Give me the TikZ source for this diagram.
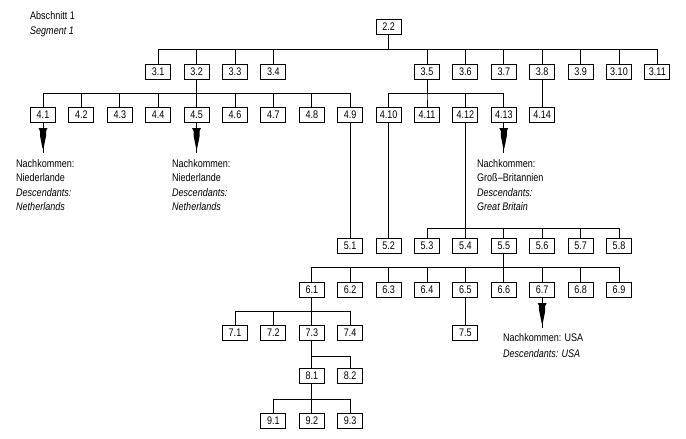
\documentclass[tikz,border=0pt]{standalone}
\usepackage{fontspec}
\setmainfont{Liberation Sans}[FakeStretch=0.82]
\tikzset{
  box/.style={draw, line width=1pt, minimum width=25pt, minimum height=15pt, inner sep=0pt,
    font=\fontsize{11}{12}\selectfont},
  lbl/.style={anchor=west, inner sep=0pt, font=\fontsize{11}{12}\selectfont},
  ilbl/.style={lbl, font=\fontsize{11}{12}\selectfont\itshape},
  conn/.style={line width=1pt},
  pics/descarrow/.style={code={
    \draw[conn] (0,0) -- (0,30);
    \fill (-4.5,5) -- (4.5,5) -- (3,8) -- (3,13) -- (0.6,25) -- (-0.6,25) -- (-3,13) -- (-3,8) -- cycle;
  }}
}
\begin{document}
\begin{tikzpicture}[x=1pt,y=-1pt]
\useasboundingbox (0,0) rectangle (686,439);
% header
\node[lbl] (hdA) at (30,16) {Abschnitt 1};
\node[ilbl] (hdB) at (30,32) {Segment 1};
% rows
\node[box] (a22) at ({43+38.4*9},27) {2.2};
\foreach \n/\k/\t in {31/3/3.1,32/4/3.2,33/5/3.3,34/6/3.4,35/10/3.5,36/11/3.6,37/12/3.7,38/13/3.8,39/14/3.9,310/15/3.10,311/16/3.11}
  \node[box] (a\n) at ({43+38.4*\k},72) {\t};
\foreach \n/\k/\t in {41/0/4.1,42/1/4.2,43/2/4.3,44/3/4.4,45/4/4.5,46/5/4.6,47/6/4.7,48/7/4.8,49/8/4.9,410/9/4.10,411/10/4.11,412/11/4.12,413/12/4.13,414/13/4.14}
  \node[box] (a\n) at ({43+38.4*\k},115) {\t};
\foreach \n/\k/\t in {51/8/5.1,52/9/5.2,53/10/5.3,54/11/5.4,55/12/5.5,56/13/5.6,57/14/5.7,58/15/5.8}
  \node[box] (a\n) at ({43+38.4*\k},246) {\t};
\foreach \n/\k/\t in {61/7/6.1,62/8/6.2,63/9/6.3,64/10/6.4,65/11/6.5,66/12/6.6,67/13/6.7,68/14/6.8,69/15/6.9}
  \node[box] (a\n) at ({43+38.4*\k},290) {\t};
\foreach \n/\k/\t in {71/5/7.1,72/6/7.2,73/7/7.3,74/8/7.4,75/11/7.5}
  \node[box] (a\n) at ({43+38.4*\k},333) {\t};
\foreach \n/\k/\t in {81/7/8.1,82/8/8.2}
  \node[box] (a\n) at ({43+38.4*\k},376) {\t};
\foreach \n/\k/\t in {91/6/9.1,92/7/9.2,93/8/9.3}
  \node[box] (a\n) at ({43+38.4*\k},421) {\t};
% connectors
\foreach \c in {31,32,33,34,35,36,37,38,39,310,311}
  \draw[conn] (a22.south) -- ++(0,14.5) -| (a\c.north);
\foreach \c in {41,42,43,44,45,46,47,48,49}
  \draw[conn] (a32.south) -- ++(0,13.5) -| (a\c.north);
\foreach \c in {410,411,412,413}
  \draw[conn] (a35.south) -- ++(0,13.5) -| (a\c.north);
\draw[conn] (a38.south) -- (a414.north);
\draw[conn] (a49.south) -- (a51.north);
\draw[conn] (a410.south) -- (a52.north);
\foreach \c in {53,54,55,56,57,58}
  \draw[conn] (a412.south) -- ++(0,105.5) -| (a\c.north);
\foreach \c in {61,62,63,64,65,66,67,68,69}
  \draw[conn] (a55.south) -- ++(0,13.5) -| (a\c.north);
\foreach \c in {71,72,73,74}
  \draw[conn] (a61.south) -- ++(0,13.5) -| (a\c.north);
\draw[conn] (a65.south) -- (a75.north);
\foreach \c in {81,82}
  \draw[conn] (a73.south) -- ++(0,15.5) -| (a\c.north);
\foreach \c in {91,92,93}
  \draw[conn] (a81.south) -- ++(0,15.5) -| (a\c.north);
% descendant arrows
\pic at (a41.south) {descarrow};
\pic at (a45.south) {descarrow};
\pic at (a413.south) {descarrow};
\pic at (a67.south) {descarrow};
% descendant texts
\node[lbl] (t1a) at (16,164) {Nachkommen:};
\node[lbl] (t1b) at (16,178) {Niederlande};
\node[ilbl] (t1c) at (16,193) {Descendants:};
\node[ilbl] (t1d) at (16,207) {Netherlands};
\node[lbl] (t2a) at (172,164) {Nachkommen:};
\node[lbl] (t2b) at (172,178) {Niederlande};
\node[ilbl] (t2c) at (172,193) {Descendants:};
\node[ilbl] (t2d) at (172,207) {Netherlands};
\node[lbl] (t3a) at (477,164) {Nachkommen:};
\node[lbl] (t3b) at (477,178) {Groß–Britannien};
\node[ilbl] (t3c) at (477,193) {Descendants:};
\node[ilbl] (t3d) at (477,207) {Great Britain};
\node[lbl] (t4a) at (503,338) {Nachkommen: USA};
\node[ilbl] (t4b) at (503,354) {Descendants: USA};
\end{tikzpicture}
\end{document}
